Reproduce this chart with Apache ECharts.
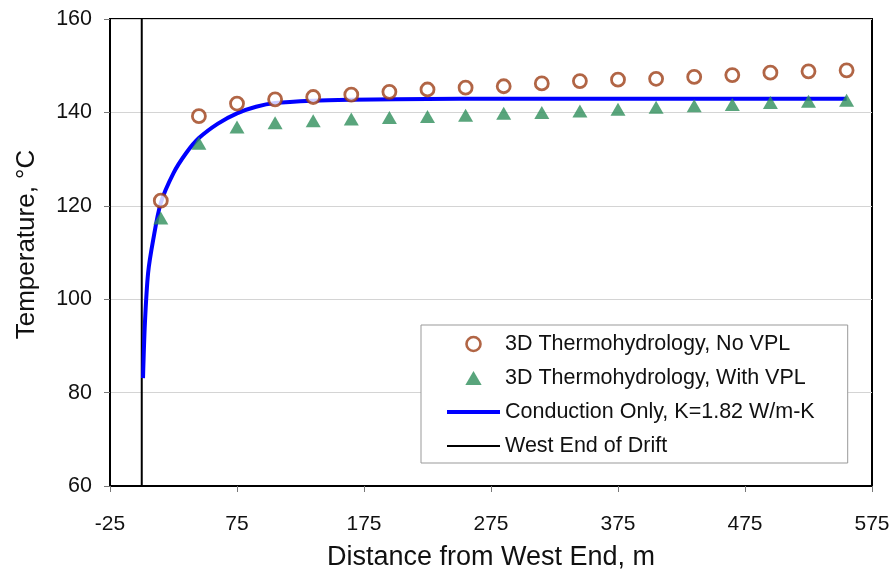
<!DOCTYPE html>
<html>
<head>
<meta charset="utf-8">
<script src="https://cdn.jsdelivr.net/npm/echarts@6/dist/echarts.min.js"></script>
<style>
html,body{margin:0;padding:0;background:#fff;}
#chart{width:896px;height:579px;}
</style>
</head>
<body>
<div id="chart"></div>
<script>
// Data
var distances = [15, 45, 75, 105, 135, 165, 195, 225, 255, 285, 315, 345, 375, 405, 435, 465, 495, 525, 555];
var noVPL = [121.1, 139.2, 141.9, 142.8, 143.3, 143.8, 144.4, 144.9, 145.3, 145.6, 146.2, 146.7, 147.0, 147.2, 147.6, 148.0, 148.5, 148.8, 149.0];
var withVPL = [117.4, 133.4, 136.9, 137.8, 138.2, 138.6, 138.9, 139.1, 139.4, 139.8, 140.0, 140.3, 140.7, 141.1, 141.4, 141.7, 142.1, 142.4, 142.6];
var conductionX = [1, 2.5, 5, 9, 15, 25, 35, 45, 60, 75, 90, 105, 135, 165, 200, 250, 300, 400, 500, 555];
var conductionY = [83.1, 94.9, 105.6, 112.7, 120.6, 127.0, 131.3, 134.5, 137.6, 139.8, 141.2, 142.0, 142.5, 142.7, 142.8, 142.9, 142.9, 142.9, 142.9, 142.9];
var westEndX = [0, 0];
var westEndY = [60, 160];
var seriesNames = ['3D Thermohydrology, No VPL', '3D Thermohydrology, With VPL', 'Conduction Only, K=1.82 W/m-K', 'West End of Drift'];

function pairs(xs, ys) { return xs.map(function (x, i) { return [x, ys[i]]; }); }

var FONT = 'Liberation Sans, Arial, sans-serif';
var BROWN = '#9e3f17';
var GREEN = '#2f8f5b';
var chart = echarts.init(document.getElementById('chart'));
chart.setOption({
  backgroundColor: '#ffffff',
  animation: false,
  textStyle: { fontFamily: FONT },
  grid: {
    left: 110, right: 24, top: 19, bottom: 93,
    show: true, borderColor: '#000', borderWidth: 2, backgroundColor: 'transparent'
  },
  legend: {
    orient: 'vertical',
    left: 421, top: 325,
    padding: [8, 33, 6, 26],
    itemWidth: 53, itemHeight: 14, itemGap: 12,
    symbolKeepAspect: true,
    borderColor: '#999', borderWidth: 1, backgroundColor: '#fff',
    textStyle: { fontFamily: FONT, fontSize: 21.5, color: '#111' },
    data: [
      { name: seriesNames[0], icon: 'circle', itemStyle: { color: '#fff', borderColor: BROWN, borderWidth: 2.6 } },
      { name: seriesNames[1], icon: 'path://M7,0L14,12L0,12Z', itemStyle: { color: GREEN } },
      { name: seriesNames[2], icon: 'path://M0,0L53,0L53,4L0,4Z', itemStyle: { color: '#0000ff' } },
      { name: seriesNames[3], icon: 'path://M0,0L53,0L53,2L0,2Z', itemStyle: { color: '#000' } }
    ]
  },
  xAxis: {
    type: 'value', min: -25, max: 575, interval: 100,
    name: 'Distance from West End, m', nameLocation: 'middle', nameGap: 58,
    nameTextStyle: { fontFamily: FONT, fontSize: 27, color: '#111' },
    axisLine: { show: true, onZero: false, lineStyle: { color: '#000', width: 2 } },
    axisTick: { show: true, inside: false, length: 6, lineStyle: { color: '#777' } },
    axisLabel: { margin: 28, fontFamily: FONT, fontSize: 21, color: '#111' },
    splitLine: { show: false }
  },
  yAxis: {
    type: 'value', min: 60, max: 160, interval: 20,
    name: 'Temperature, °C', nameLocation: 'middle', nameGap: 70,
    nameTextStyle: { fontFamily: FONT, fontSize: 26, color: '#111', padding: [0, 0, 0, 16] },
    axisLine: { show: true, onZero: false, lineStyle: { color: '#000', width: 2 } },
    axisTick: { show: true, inside: false, length: 6, lineStyle: { color: '#777' } },
    axisLabel: { margin: 18, fontFamily: FONT, fontSize: 21.5, color: '#111' },
    splitLine: { show: true, lineStyle: { color: '#d4d4d4', width: 1 } }
  },
  series: [
    {
      name: seriesNames[3], type: 'line', data: pairs(westEndX, westEndY),
      symbol: 'none', showSymbol: false, z: 3,
      lineStyle: { color: '#000', width: 2 }, itemStyle: { color: '#000' }
    },
    {
      name: seriesNames[2], type: 'line', data: pairs(conductionX, conductionY),
      symbol: 'none', showSymbol: false, smooth: 0.3, z: 4,
      lineStyle: { color: '#0000ff', width: 4 }, itemStyle: { color: '#0000ff' }
    },
    {
      name: seriesNames[0], type: 'scatter', data: pairs(distances, noVPL),
      symbol: 'circle', symbolSize: 13, z: 5,
      itemStyle: { color: '#ffffff', borderColor: BROWN, borderWidth: 2.8 }
    },
    {
      name: seriesNames[1], type: 'scatter', data: pairs(distances, withVPL),
      symbol: 'triangle', symbolSize: [15, 13], z: 5,
      itemStyle: { color: GREEN }
    }
  ]
});
</script>
</body>
</html>
